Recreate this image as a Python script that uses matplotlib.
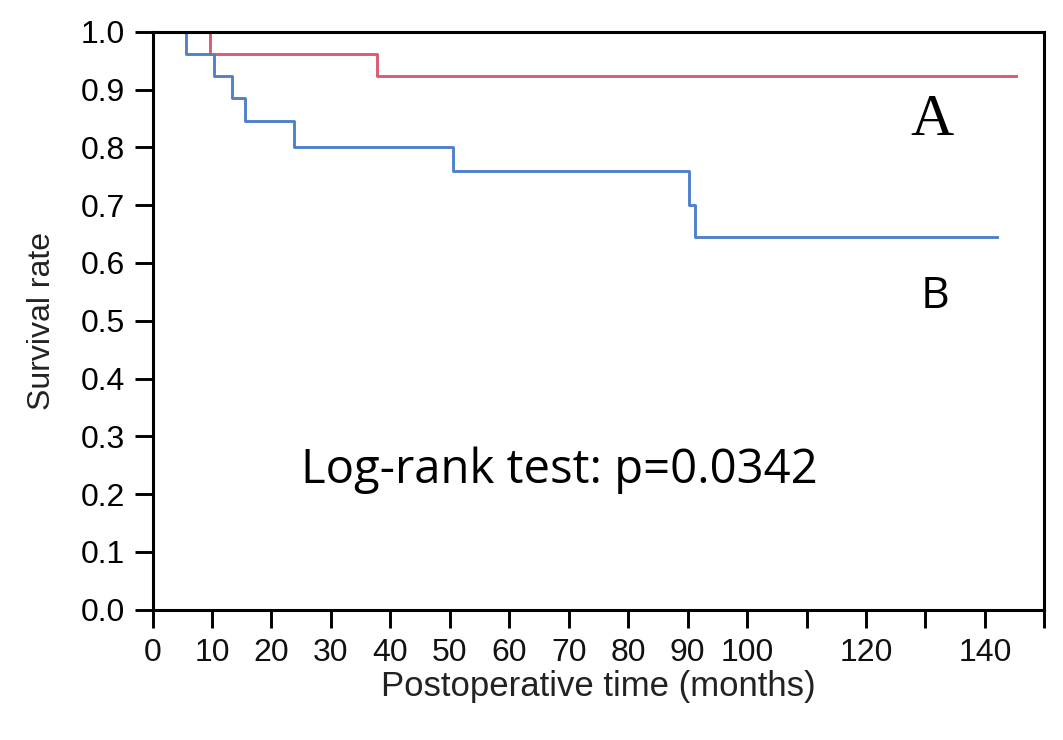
import matplotlib.pyplot as plt
import numpy as np

# Kaplan-Meier step data
time_a = [0, 9.7, 37.8, 145.2]
surv_a = [1.0, 0.962, 0.923, 0.923]
time_b = [0, 5.6, 10.3, 13.4, 15.6, 23.8, 50.5, 90.2, 91.2, 142.0]
surv_b = [1.0, 0.962, 0.923, 0.885, 0.846, 0.80, 0.76, 0.70, 0.645, 0.645]

x_ticks = np.arange(0, 151, 10)
x_labels = ['0', '10', '20', '30', '40', '50', '60', '70', '80', '90', '100',
            '', '120', '', '140', '']
y_ticks = np.arange(0, 1.01, 0.1)

plt.rcParams['font.family'] = ['Liberation Sans', 'DejaVu Sans']

fig = plt.figure(figsize=(10.63, 7.4), dpi=100)
ax = fig.add_axes([0.1435, 0.176, 0.839, 0.781])

ax.step(time_a, surv_a, where='post', color='#d95c72', linewidth=2.1)
ax.step(time_b, surv_b, where='post', color='#5080cc', linewidth=2.1)

ax.set_xlim(0, 150)
ax.set_ylim(0, 1.0)
ax.set_xticks(x_ticks)
ax.set_xticklabels(x_labels)
ax.set_yticks(y_ticks)
ax.set_yticklabels([f"{v:.1f}" for v in y_ticks])
ax.tick_params(axis='both', direction='out', length=13, width=2.1,
               labelsize=23, pad=7, colors='black')
ax.tick_params(axis='x', labelcolor='#111111')
for s in ax.spines.values():
    s.set_linewidth(2.2)
    s.set_clip_on(False)

ax.set_xlabel("Postoperative time (months)", fontsize=25, color='#222222', labelpad=2)
ax.set_ylabel("Survival rate", fontsize=23, color='#222222', labelpad=17)

ax.text(131.1, 0.822, "A", fontsize=43, family='Liberation Serif', ha='center', va='baseline')
ax.text(131.6, 0.522, "B", fontsize=32, family='Open Sans', ha='center', va='baseline')
ax.text(68.4, 0.219, "Log-rank test: p=0.0342", fontsize=34, family='Open Sans',
        ha='center', va='baseline')

fig.savefig("out.png", dpi=100)
